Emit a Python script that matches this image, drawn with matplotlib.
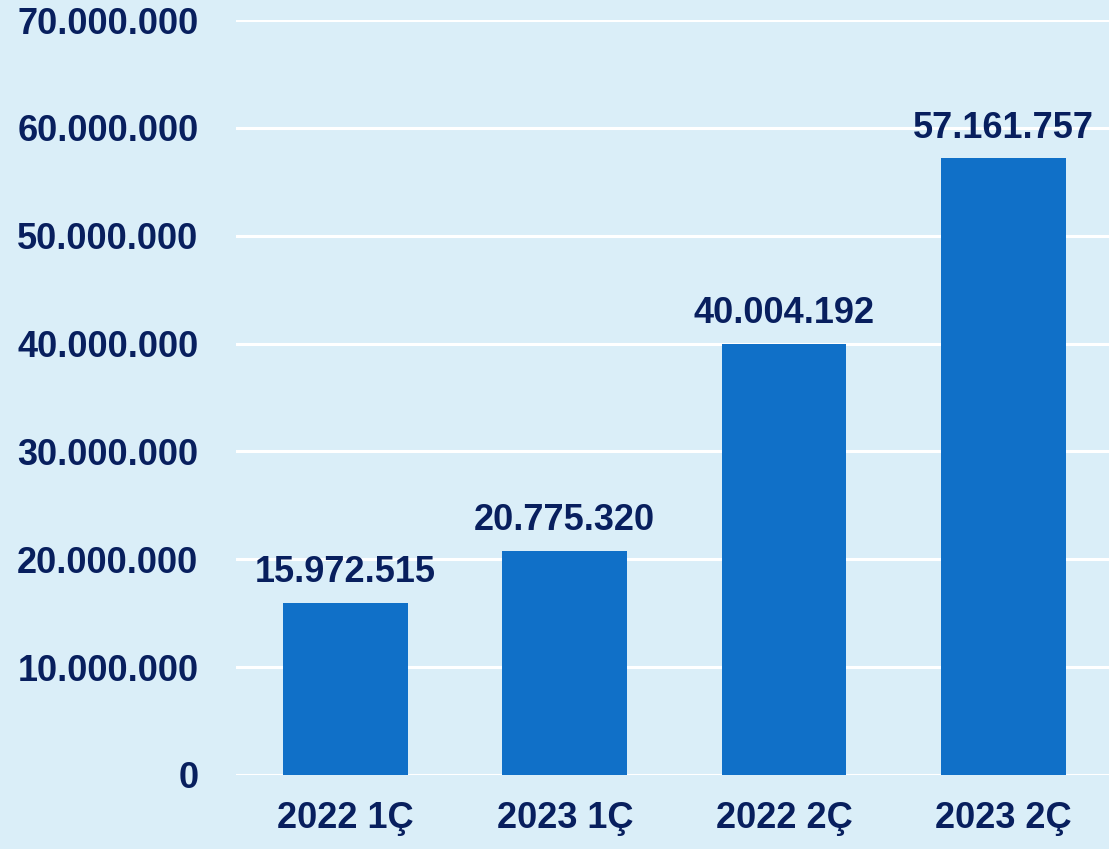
import matplotlib
matplotlib.use("Agg")
import matplotlib.pyplot as plt
from matplotlib.ticker import FuncFormatter

categories = ["2022 1Ç", "2023 1Ç", "2022 2Ç", "2023 2Ç"]
values = [15972515, 20775320, 40004192, 57161757]
yticks = [0, 10000000, 20000000, 30000000, 40000000, 50000000, 60000000, 70000000]

bg = "#DAEEF8"
bar_color = "#1070C8"
text_color = "#081F5E"

def fmt(v):
    return f"{int(v):,}".replace(",", ".")

plt.rcParams['font.family'] = ['Liberation Sans', 'DejaVu Sans']
fig = plt.figure(figsize=(11.09, 8.49), dpi=100, facecolor=bg)
ax = fig.add_axes([0.2128, 0.0872, 0.7906, 0.8892], facecolor=bg)

x = range(len(categories))
bars = ax.bar(x, values, width=0.57, color=bar_color, zorder=3)
for xi, v in zip(x, values):
    ax.annotate(fmt(v), (xi, v), xytext=(0, 9), textcoords="offset points",
                ha="center", va="bottom", fontsize=26, fontweight="bold",
                color=text_color, zorder=4)

ax.set_xlim(-0.5, 3.5)
ax.set_ylim(0, 70000000)
ax.set_yticks(yticks)
ax.yaxis.set_major_formatter(FuncFormatter(lambda v, p: fmt(v)))
ax.set_xticks(list(x))
ax.set_xticklabels(categories)
ax.grid(axis="y", color="white", linewidth=2.2, zorder=0)
ax.set_axisbelow(True)
for s in ax.spines.values():
    s.set_visible(False)
ax.tick_params(axis="both", length=0, labelsize=26, labelcolor=text_color)
ax.tick_params(axis="y", pad=27)
ax.tick_params(axis="x", pad=19)
for lbl in ax.get_xticklabels() + ax.get_yticklabels():
    lbl.set_fontweight("bold")

fig.savefig("out.png", dpi=100, facecolor=bg)
